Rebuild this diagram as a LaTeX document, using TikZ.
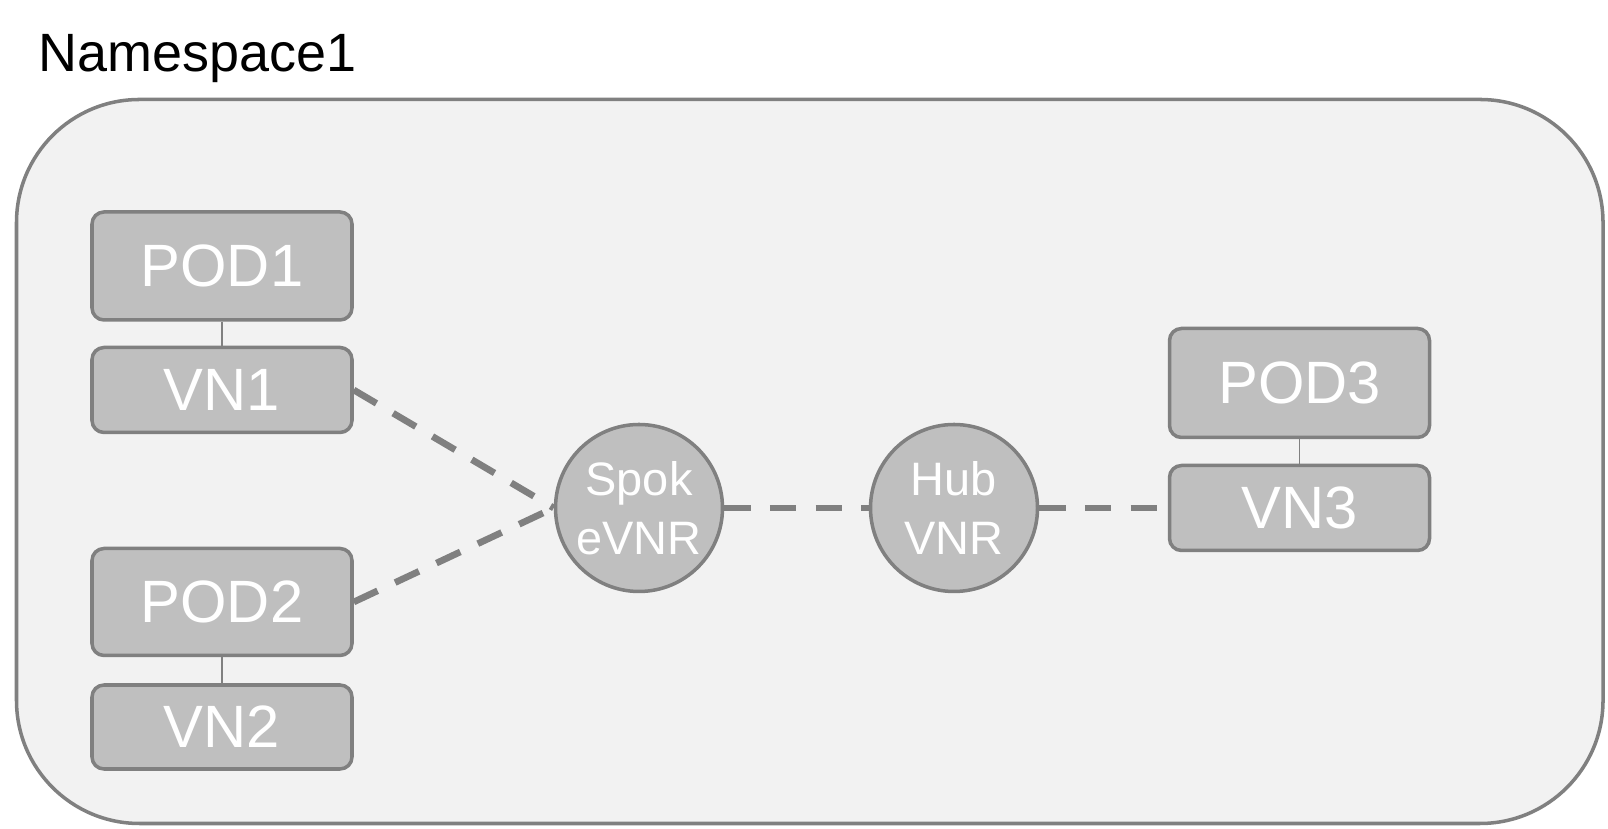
\documentclass[tikz,border=0pt]{standalone}
\usepackage{fontspec}
\setmainfont{Liberation Sans}
\usepackage{xcolor}
\definecolor{edgegray}{HTML}{808080}
\definecolor{boxgray}{HTML}{BFBFBF}
\definecolor{nsgray}{HTML}{F2F2F2}

\begin{document}
\begin{tikzpicture}[
  podbox/.style={draw=edgegray, fill=boxgray, line width=2pt, rounded corners=0.24cm,
    minimum width=5.2cm, text=white, font=\fontsize{34}{40}\selectfont, inner sep=0pt},
  vnr/.style={draw=edgegray, fill=boxgray, line width=2pt, circle, minimum size=3.34cm,
    text=white, align=center, inner sep=0pt, font=\fontsize{26.7}{33.7}\selectfont},
  link/.style={edgegray, line width=3.8pt, dash pattern=on 15pt off 11pt},
  tie/.style={edgegray, line width=0.85pt}]
\useasboundingbox (0,0) rectangle (32.16,16.58);
% Namespace
\fill[white] (0,0) rectangle (32.16,16.58);
\draw[edgegray, fill=nsgray, line width=2pt, rounded corners=2.46cm] (0.33,0.11) rectangle (32.06,14.59);
\node[anchor=base west, inner sep=0pt, font=\fontsize{30.7}{36}\selectfont] (title) at (0.76,15.14) {Namespace1};
% Pods and their VNs
\node[podbox, minimum height=2.16cm] (pod1) at (4.44,11.26) {POD1};
\node[podbox, minimum height=1.7cm] (vn1) at (4.44,8.78) {VN1};
\node[podbox, minimum height=2.14cm] (pod2) at (4.44,4.54) {POD2};
\node[podbox, minimum height=1.68cm] (vn2) at (4.44,2.04) {VN2};
\node[podbox, minimum height=2.18cm] (pod3) at (25.99,8.92) {POD3};
\node[podbox, minimum height=1.7cm] (vn3) at (25.99,6.42) {VN3};
% Routers
\node[vnr] (spoke) at (12.78,6.42) {Spok\\eVNR};
\node[vnr] (hub) at (19.08,6.42) {Hub\\VNR};
% Links
\draw[tie] (pod1) -- (vn1);
\draw[tie] (pod2) -- (vn2);
\draw[tie] (pod3) -- (vn3);
\draw[link] (vn1.east) -- (spoke.west);
\draw[link] (pod2.east) -- (spoke.west);
\draw[link] (spoke.east) -- (hub.west);
\draw[link] (hub.east) -- (vn3.west);
\end{tikzpicture}
\end{document}
